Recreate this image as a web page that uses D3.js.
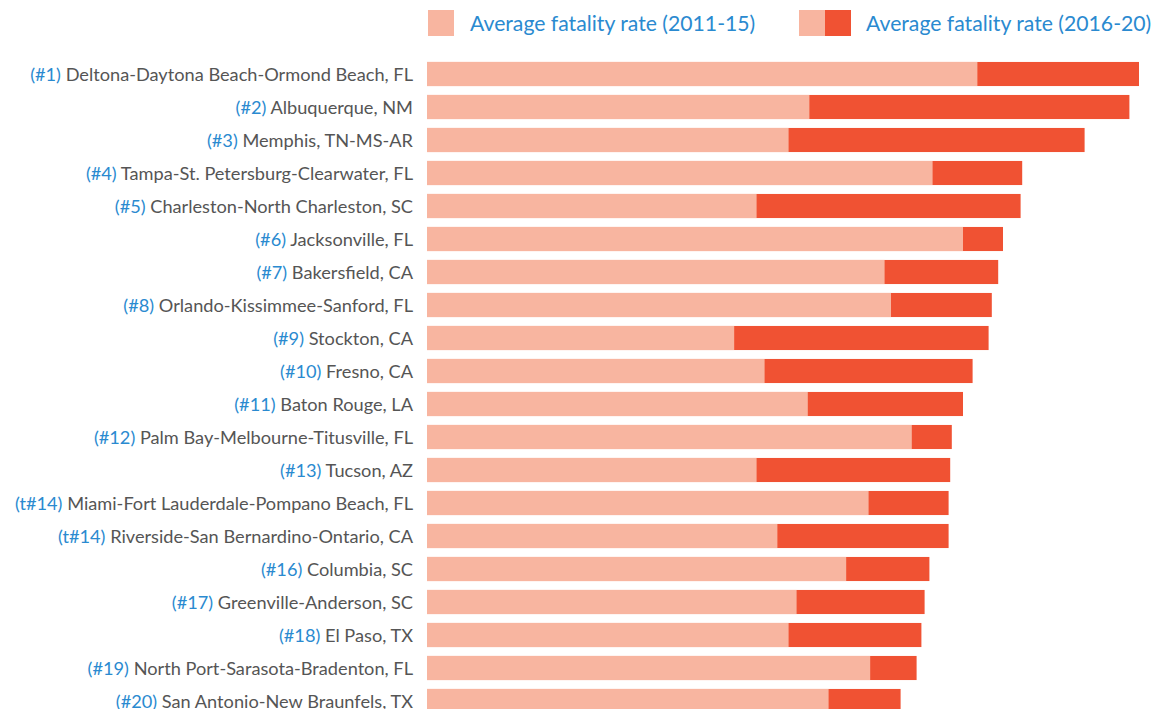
<!DOCTYPE html>
<html>
<head>
    <meta charset="utf-8">
    <style>
        body {
            margin: 0;
            background: #fff;
            font-family: Lato, 'Open Sans', sans-serif;
        }
        svg {
            display: block;
        }
        .rank {
            fill: #2a8ad0;
        }
        .name {
            fill: #555555;
        }
        .legend text {
            fill: #2a8ad0;
        }
    </style>
</head>
<body>
    <svg width="1155" height="709"></svg>
</body>
<script src="https://d3js.org/d3.v7.min.js"></script>
<script>
    // metro areas, in rank order
    let ranks = ["(#1)", "(#2)", "(#3)", "(#4)", "(#5)", "(#6)", "(#7)", "(#8)", "(#9)", "(#10)",
        "(#11)", "(#12)", "(#13)", "(t#14)", "(t#14)", "(#16)", "(#17)", "(#18)", "(#19)", "(#20)"]
    let metros = ["Deltona-Daytona Beach-Ormond Beach, FL", "Albuquerque, NM", "Memphis, TN-MS-AR",
        "Tampa-St. Petersburg-Clearwater, FL", "Charleston-North Charleston, SC", "Jacksonville, FL",
        "Bakersfield, CA", "Orlando-Kissimmee-Sanford, FL", "Stockton, CA", "Fresno, CA",
        "Baton Rouge, LA", "Palm Bay-Melbourne-Titusville, FL", "Tucson, AZ",
        "Miami-Fort Lauderdale-Pompano Beach, FL", "Riverside-San Bernardino-Ontario, CA",
        "Columbia, SC", "Greenville-Anderson, SC", "El Paso, TX", "North Port-Sarasota-Bradenton, FL",
        "San Antonio-New Braunfels, TX"]
    // average pedestrian fatality rate
    let rate2011 = [3.44, 2.39, 2.26, 3.16, 2.06, 3.35, 2.86, 2.90, 1.92, 2.11,
        2.38, 3.03, 2.06, 2.76, 2.19, 2.62, 2.31, 2.26, 2.77, 2.51]
    let rate2016 = [4.45, 4.39, 4.11, 3.72, 3.71, 3.60, 3.57, 3.53, 3.51, 3.41,
        3.35, 3.28, 3.27, 3.26, 3.26, 3.14, 3.11, 3.09, 3.06, 2.96]
    let legendLabels = ["Average fatality rate (2011-15)", "Average fatality rate (2016-20)"]

    let lightColor = "#f8b5a0"
    let darkColor = "#f05233"

    let svg = d3.select("svg")
    let data = metros.map((m, i) => ({ key: i, rank: ranks[i], name: m, a: rate2011[i], b: rate2016[i] }))

    let x = d3.scaleLinear()
        .domain([0, 4.5])
        .range([427, 1147])
    let y = d3.scaleBand()
        .domain(data.map(d => d.key))
        .range([57.5, 717.5])
        .paddingInner(0.27)
        .paddingOuter(0.135)

    // 2016-20 bar sits underneath, 2011-15 bar drawn on top of it
    svg.append("g")
        .selectAll("rect")
        .data(data)
        .join("rect")
        .attr("x", x(0))
        .attr("y", d => y(d.key))
        .attr("width", d => x(d.b) - x(0))
        .attr("height", y.bandwidth())
        .attr("fill", darkColor)
    svg.append("g")
        .selectAll("rect")
        .data(data)
        .join("rect")
        .attr("x", x(0))
        .attr("y", d => y(d.key))
        .attr("width", d => x(d.a) - x(0))
        .attr("height", y.bandwidth())
        .attr("fill", lightColor)

    let labels = svg.append("g")
        .selectAll("text")
        .data(data)
        .join("text")
        .attr("x", 413)
        .attr("y", d => y(d.key) + y.bandwidth() / 2)
        .attr("dy", "0.38em")
        .attr("text-anchor", "end")
        .style("font-size", "18.2px")
    labels.append("tspan").attr("class", "rank").text(d => d.rank + " ")
    labels.append("tspan").attr("class", "name").text(d => d.name)

    // legend
    let legend = svg.append("g").attr("class", "legend")
    legend.append("rect")
        .attr("x", 428).attr("y", 10).attr("width", 26).attr("height", 26)
        .attr("fill", lightColor)
    legend.append("text")
        .attr("x", 470).attr("y", 23).attr("dy", "0.36em")
        .style("font-size", "21.2px")
        .text(legendLabels[0])
    legend.append("rect")
        .attr("x", 799).attr("y", 10).attr("width", 26).attr("height", 26)
        .attr("fill", lightColor)
    legend.append("rect")
        .attr("x", 825).attr("y", 10).attr("width", 26).attr("height", 26)
        .attr("fill", darkColor)
    legend.append("text")
        .attr("x", 866).attr("y", 23).attr("dy", "0.36em")
        .style("font-size", "21.2px")
        .text(legendLabels[1])
</script>
</html>
